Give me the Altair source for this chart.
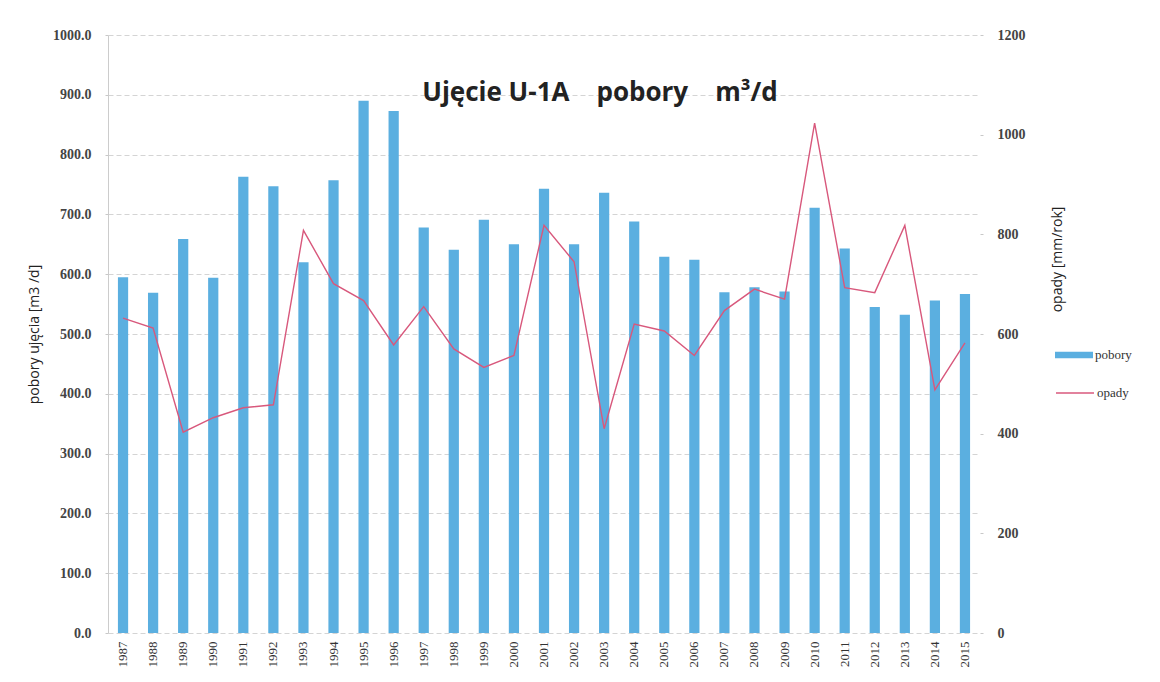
import altair as alt
import pandas as pd

years = [str(y) for y in range(1987, 2016)]
pobory = [595, 569, 659, 594, 763, 747, 620, 757, 890, 873, 678, 641, 691, 650, 743,
          650, 736, 688, 629, 624, 570, 578, 571, 711, 643, 545, 532, 556, 567]
opady = [632, 612, 403, 432, 452, 458, 808, 701, 667, 578, 655, 570, 533, 557, 818,
         745, 410, 620, 606, 557, 647, 690, 670, 1023, 693, 683, 818, 488, 582]
left_ticks = [0, 100, 200, 300, 400, 500, 600, 700, 800, 900, 1000]
right_ticks = [0, 200, 400, 600, 800, 1000, 1200]

BAR = "#5bafe0"
LINE = "#d8587c"

df = pd.DataFrame({"rok": years, "pobory": pobory, "opady": opady})

xenc = alt.X("rok:O", sort=years,
             scale=alt.Scale(paddingInner=0.66, paddingOuter=0.33),
             axis=alt.Axis(title=None, labelAngle=270, domain=False, ticks=False,
                           labelPadding=8, labelFont="Liberation Serif",
                           labelFontSize=13, labelColor="#333"))

bars = alt.Chart(df).mark_bar(color=BAR).encode(
    x=xenc,
    y=alt.Y("pobory:Q", scale=alt.Scale(domain=[0, 1000], nice=False),
            axis=alt.Axis(values=left_ticks, format=".1f",
                          title="pobory ujęcia [m3 /d]",
                          titleFont="Open Sans", titleFontSize=14,
                          titleFontWeight="normal", titleColor="#222",
                          titleX=-74, titleY=299, titleAngle=270,
                          titleAlign="center", titleBaseline="middle",
                          labelFont="Liberation Serif", labelFontSize=14,
                          labelFontWeight="bold",
                          labelColor="#444", labelPadding=14,
                          grid=True, gridColor="#d4d4d4", gridDash=[5, 3],
                          domainColor="#cccccc", tickColor="#c8c8c8", tickSize=3)),
    fill=alt.Fill("s:N", scale=alt.Scale(domain=["pobory"], range=[BAR]),
                  legend=alt.Legend(title=None, orient="none", legendX=947, legendY=301,
                                    symbolType="M-1,-0.17H1V0.17H-1Z", symbolSize=1444,
                                    symbolStrokeWidth=0,
                                    labelFont="Liberation Serif", labelFontSize=13,
                                    labelColor="#333", labelOffset=2)),
).transform_calculate(s="'pobory'")

line = alt.Chart(df).mark_line(color=LINE, strokeWidth=1.4).encode(
    x=xenc,
    y=alt.Y("opady:Q", scale=alt.Scale(domain=[0, 1200], nice=False),
            axis=alt.Axis(values=right_ticks, format="d", orient="right",
                          title="opady [mm/rok]",
                          titleFont="Open Sans", titleFontSize=14,
                          titleFontWeight="normal", titleColor="#222",
                          titleX=77, titleY=224, titleAngle=270,
                          titleAlign="center", titleBaseline="middle",
                          labelFont="Liberation Serif", labelFontSize=14,
                          labelFontWeight="bold",
                          labelColor="#444", labelPadding=14,
                          grid=False, domain=False, tickColor="#c8c8c8", tickSize=3)),
    stroke=alt.Stroke("s:N", scale=alt.Scale(domain=["opady"], range=[LINE]),
                      legend=alt.Legend(title=None, orient="none", legendX=947, legendY=338,
                                        symbolType="M-1,0H1", symbolSize=1444,
                                        symbolStrokeWidth=1.4,
                                        labelFont="Liberation Serif", labelFontSize=13,
                                        labelColor="#333", labelOffset=2)),
).transform_calculate(s="'opady'")

chart = alt.layer(bars, line).resolve_scale(y="independent").properties(
    width=872, height=598,
    padding={"left": 100, "top": 27, "right": 170, "bottom": 38},
    autosize=alt.AutoSizeParams(type="none"),
    title=alt.TitleParams("Ujęcie U-1A\u00a0\u00a0\u00a0 pobory\u00a0\u00a0\u00a0 m³/d",
                          font="Open Sans", fontSize=26, fontWeight="bold",
                          color="#222", anchor="middle", dx=56, dy=82),
).configure_view(strokeWidth=0)

chart.save("out.html", embed_options={"renderer": "svg", "actions": False})
